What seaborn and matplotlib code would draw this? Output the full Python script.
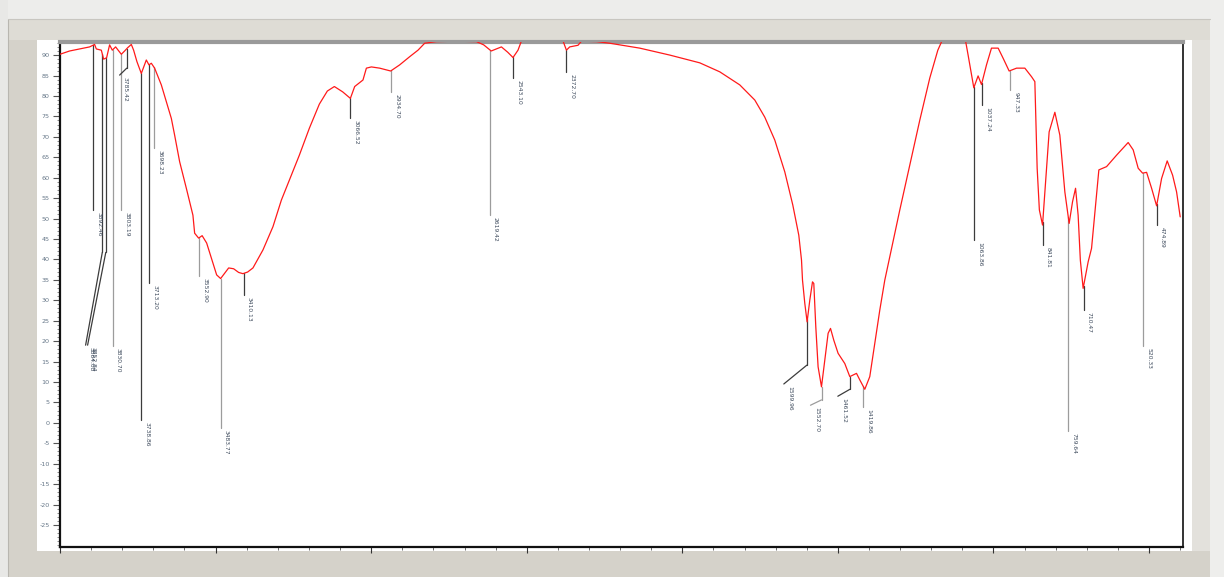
import numpy as np
import pandas as pd
import matplotlib
matplotlib.use("Agg")
import matplotlib.pyplot as plt
import seaborn as sns
from matplotlib.patches import Rectangle
from matplotlib.ticker import MultipleLocator

# FTIR spectrum, wavenumber (cm-1) vs transmittance (%T)
wavenumber = [
    4000.0, 3969.1, 3927.3, 3904.8, 3888.8, 3883.3, 3867.2, 3859.8, 3850.2, 3840.6,
    3831.9, 3821.3, 3802.9, 3792.3, 3782.6, 3770.8, 3763.4, 3752.8, 3738.7, 3722.6,
    3714.2, 3706.5, 3695.9, 3674.4, 3658.3, 3642.2, 3631.6, 3615.5, 3594.0, 3572.8,
    3567.3, 3554.5, 3543.2, 3528.7, 3508.5, 3496.6, 3483.8, 3470.9, 3458.0, 3442.0,
    3425.9, 3412.1, 3397.0, 3379.9, 3347.8, 3315.6, 3288.6, 3262.9, 3230.8, 3198.6,
    3166.5, 3140.8, 3118.3, 3091.6, 3066.8, 3053.0, 3026.3, 3015.4, 2999.3, 2972.7,
    2937.3, 2908.4, 2876.3, 2849.5, 2828.0, 2790.4, 2726.1, 2661.8, 2638.3, 2614.2,
    2581.4, 2561.2, 2544.1, 2528.1, 2512.0, 2460.0, 2388.5, 2372.5, 2361.9, 2335.2,
    2324.2, 2276.0, 2233.3, 2136.9, 2040.4, 1944.0, 1879.7, 1815.4, 1767.2, 1735.0,
    1702.9, 1670.7, 1645.0, 1625.7, 1617.0, 1613.8, 1606.4, 1599.0, 1590.4, 1581.7,
    1577.5, 1571.1, 1563.7, 1552.8, 1542.2, 1531.5, 1523.8, 1513.2, 1499.4, 1477.9,
    1461.8, 1440.3, 1429.7, 1413.6, 1397.6, 1381.5, 1365.4, 1349.4, 1335.6, 1301.1,
    1269.0, 1236.8, 1204.7, 1178.9, 1159.6, 1124.3, 1092.2, 1081.6, 1063.3, 1049.5,
    1038.6, 1022.5, 1006.5, 985.0, 968.9, 949.7, 925.9, 899.2, 877.7, 867.1,
    859.7, 852.6, 842.4, 829.5, 821.2, 802.8, 786.8, 770.7, 756.9, 746.0,
    736.3, 728.0, 720.9, 711.9, 695.8, 684.9, 668.8, 661.4, 636.6, 604.5,
    567.2, 551.1, 535.0, 520.8, 508.0, 491.9, 475.8, 459.8, 441.8, 424.4,
    411.6, 400.0,
]
transmittance = [
    90.2, 91.0, 91.65, 92.0, 92.6, 91.5, 91.2, 89.0, 89.35, 92.5,
    91.2, 92.0, 90.2, 91.0, 91.8, 92.6, 91.2, 88.4, 85.5, 88.8,
    87.6, 88.0, 86.8, 82.7, 78.6, 74.5, 70.4, 63.9, 57.4, 50.8,
    46.4, 45.2, 45.8, 44.0, 39.1, 36.2, 35.3, 36.6, 37.9, 37.7,
    36.8, 36.5, 36.9, 37.9, 42.3, 48.0, 54.5, 59.4, 65.5, 72.1,
    78.0, 81.2, 82.3, 81.0, 79.4, 82.3, 83.9, 86.8, 87.1, 86.8,
    86.1, 87.6, 89.6, 91.2, 92.9, 93.3, 93.4, 93.3, 92.5, 91.0,
    92.0, 90.7, 89.4, 91.2, 94.5, 96.0, 94.5, 91.2, 92.0, 92.4,
    93.4, 93.3, 92.9, 91.7, 90.0, 88.1, 85.9, 82.7, 79.0, 74.8,
    69.2, 61.4, 53.3, 45.9, 39.8, 34.9, 29.2, 24.7, 30.0, 34.5,
    34.1, 23.5, 13.7, 8.8, 15.3, 21.9, 23.1, 20.2, 17.0, 14.5,
    11.3, 12.1, 10.5, 8.2, 11.3, 19.4, 27.6, 34.9, 39.8, 52.1,
    63.1, 74.1, 84.4, 91.2, 94.5, 96.0, 94.5, 90.0, 82.0, 84.9,
    82.8, 87.6, 91.7, 91.7, 89.2, 86.1, 86.8, 86.8, 84.7, 83.5,
    62.3, 52.1, 48.4, 62.3, 71.2, 76.0, 70.4, 56.5, 48.8, 54.1,
    57.4, 50.8, 39.8, 32.9, 39.4, 42.7, 55.7, 61.9, 62.7, 65.5,
    68.6, 66.8, 62.3, 61.1, 61.3, 57.4, 53.1, 59.8, 64.1, 60.6,
    56.5, 50.4,
]

# picked peaks (cm-1)
peak_positions = [
    3892.46, 3864.08, 3852.84, 3830.70, 3803.19, 3785.42, 3738.86, 3713.20,
    3698.23, 3552.90, 3483.77, 3410.13, 3066.52, 2934.70, 2619.42, 2543.10,
    2372.70, 1599.96, 1552.70, 1461.52, 1419.86, 1063.86, 1037.24, 947.33,
    841.81, 759.64, 710.47, 520.33, 474.89,
]

y_ticks = list(range(90, -30, -5))

# layout of the peak markers: %T where each drop line stops,
# and the end of a bent leader for crowded labels
marker_stop = [
    52.1, 41.7, 41.7, 18.8, 52.1, 86.8, 0.7, 34.2,
    67.2, 35.9, -1.3, 31.3, 74.6, 81.0, 50.8, 84.4,
    85.8, 14.1, 5.6, 8.2, 3.8, 44.7, 77.8, 81.4,
    43.5, -2.0, 27.6, 18.8, 48.4,
]
leader_end = {
    3864.08: (3917.7, 19.0),
    3852.84: (3911.3, 19.0),
    3785.42: (3808.4, 85.1),
    1599.96: (1673.9, 9.5),
    1552.70: (1588.1, 4.3),
    1461.52: (1500.3, 6.5),
}
light_markers = {3830.70, 3803.19, 3698.23, 3552.90, 3483.77, 2934.70, 2619.42,
                 1552.70, 1419.86, 947.33, 759.64, 520.33}

sns.set_style("white")
plt.rcParams["font.family"] = ["DejaVu Sans"]
plt.rcParams["axes.unicode_minus"] = False

W, H = 1224, 577
fig = plt.figure(figsize=(W / 100, H / 100), dpi=100, facecolor="#d5d2ca")

def px_rect(x0, y0, x1, y1, color, z=-2):
    fig.add_artist(Rectangle((x0 / W, 1 - y1 / H), (x1 - x0) / W, (y1 - y0) / H,
                             transform=fig.transFigure, facecolor=color,
                             edgecolor="none", zorder=z))

# window chrome
px_rect(0, 0, W, 19, "#ededeb")
px_rect(0, 0, 8, H, "#e8e8e6")
px_rect(1210, 0, W, H, "#eeeeec")
px_rect(8, 19, 1210, 40, "#dedcd5")
px_rect(1192, 40, 1210, 551, "#e3e1dc")
px_rect(37, 40, 1192, 551, "#ffffff", z=-1)
fig.add_artist(plt.Line2D([8 / W, 8 / W], [0, 1 - 19 / H], color="#b8b6b0", lw=0.8, zorder=-1))
fig.add_artist(plt.Line2D([8 / W, 1210 / W], [1 - 19 / H, 1 - 19 / H], color="#c8c6c0", lw=0.8, zorder=-1))

ax = fig.add_axes([60 / W, 1 - 547 / H, (1183 - 60) / W, (547 - 42) / H])
ax.set_zorder(1)
ax.set_facecolor("white")

df = pd.DataFrame({"wavenumber": wavenumber, "transmittance": transmittance})
sns.lineplot(data=df, x="wavenumber", y="transmittance", ax=ax, sort=False,
             color="#ff1a1a", lw=0.9, zorder=3)

ax.set_xlim(4000, 391)
ax.set_ylim(-30.4, 93.2)

# peak markers
wn_asc = np.array(wavenumber)[::-1]
t_asc = np.array(transmittance)[::-1]
for p, stop in zip(peak_positions, marker_stop):
    top = np.interp(p, wn_asc, t_asc)
    col = "#9c9c9c" if p in light_markers else "#3c3c3c"
    ax.plot([p, p], [top, stop], color=col, lw=0.9, zorder=2)
    end = (p, stop)
    if p in leader_end:
        end = leader_end[p]
        ax.plot([p, end[0]], [stop, end[1]], color=col, lw=0.9, zorder=2)
    ax.annotate(f"{p:.2f}", xy=end, xytext=(4.2, -1.2), textcoords="offset points",
                rotation=270, ha="center", va="top", fontsize=4.3,
                color="#3d4a5c", zorder=4)

ax.xaxis.set_major_locator(MultipleLocator(500))
ax.xaxis.set_minor_locator(MultipleLocator(100))
ax.set_yticks(y_ticks)
ax.yaxis.set_minor_locator(MultipleLocator(1))
ax.tick_params(axis="y", which="major", direction="out", length=5, width=0.8,
               color="#555555", labelsize=4.6, labelcolor="#667788", pad=2.5, left=True)
ax.tick_params(axis="y", which="minor", direction="out", length=2.5, width=0.6,
               color="#777777", left=True)
ax.tick_params(axis="x", which="major", direction="out", length=4, width=0.8,
               color="#333333", labelbottom=False, bottom=True)
ax.tick_params(axis="x", which="minor", direction="out", length=2.5, width=0.6,
               color="#555555", bottom=True)
ax.set_xlabel("")
ax.set_ylabel("")

for side, col, lw in [("left", "#111111", 1.6), ("bottom", "#111111", 1.6),
                      ("right", "#111111", 1.2), ("top", "#9a9a9a", 3.0)]:
    ax.spines[side].set_visible(True)
    ax.spines[side].set_color(col)
    ax.spines[side].set_linewidth(lw)

fig.savefig("out.png", dpi=100, facecolor=fig.get_facecolor())
